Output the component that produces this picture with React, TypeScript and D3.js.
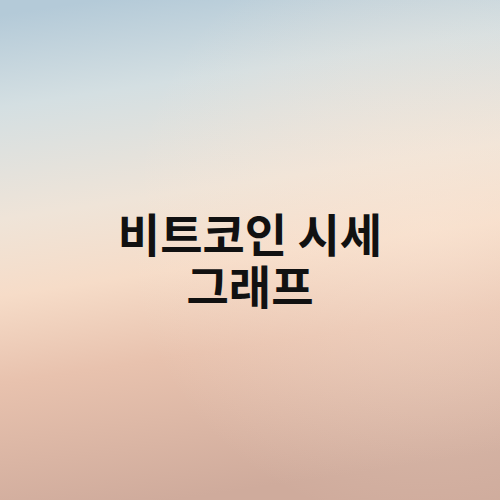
import { useRef, useEffect } from "react";
import * as d3 from "d3";

const titleLines = ["비트코인 시세", "그래프"];
const stopOffsets = [0, 0.18, 0.4, 0.55, 0.72, 1];
const stopColors = ["#b4cad8", "#d4dfe2", "#efe4d8", "#f6dcc8", "#e8c2ae", "#cfab9c"];

export default function App() {
  const svgRef = useRef<SVGSVGElement>(null);

  useEffect(() => {
    if (!svgRef.current) return;
    const svg = d3.select(svgRef.current);
    svg.selectAll("*").remove();

    const width = 500;
    const height = 500;

    const defs = svg.append("defs");
    const grad = defs
      .append("linearGradient")
      .attr("id", "bg")
      .attr("x1", "0.2")
      .attr("y1", "0")
      .attr("x2", "0.35")
      .attr("y2", "1");
    grad
      .selectAll("stop")
      .data(stopOffsets)
      .enter()
      .append("stop")
      .attr("offset", (d) => d)
      .attr("stop-color", (_, i) => stopColors[i]);

    // soft light haze on the right side
    const haze = defs
      .append("radialGradient")
      .attr("id", "haze")
      .attr("cx", "0.85")
      .attr("cy", "0.45")
      .attr("r", "0.6");
    haze.append("stop").attr("offset", 0).attr("stop-color", "#fbe8d8").attr("stop-opacity", 0.45);
    haze.append("stop").attr("offset", 1).attr("stop-color", "#fbe8d8").attr("stop-opacity", 0);

    svg.append("rect").attr("width", width).attr("height", height).attr("fill", "url(#bg)");
    svg.append("rect").attr("width", width).attr("height", height).attr("fill", "url(#haze)");

    const y = d3.scaleLinear().domain([0, 1]).range([252, 304]);

    svg
      .selectAll("text.title")
      .data(titleLines)
      .enter()
      .append("text")
      .attr("class", "title")
      .attr("x", width / 2)
      .attr("y", (_, i) => y(i))
      .attr("text-anchor", "middle")
      .attr("font-family", "'Noto Sans CJK KR', sans-serif")
      .attr("font-weight", 700)
      .attr("font-size", 46)
      .attr("fill", "#111")
      .text((d) => d);
  }, []);

  return (
    <svg
      ref={svgRef}
      width={500}
      height={500}
      style={{ position: "absolute", left: 0, top: 0, display: "block" }}
    />
  );
}
